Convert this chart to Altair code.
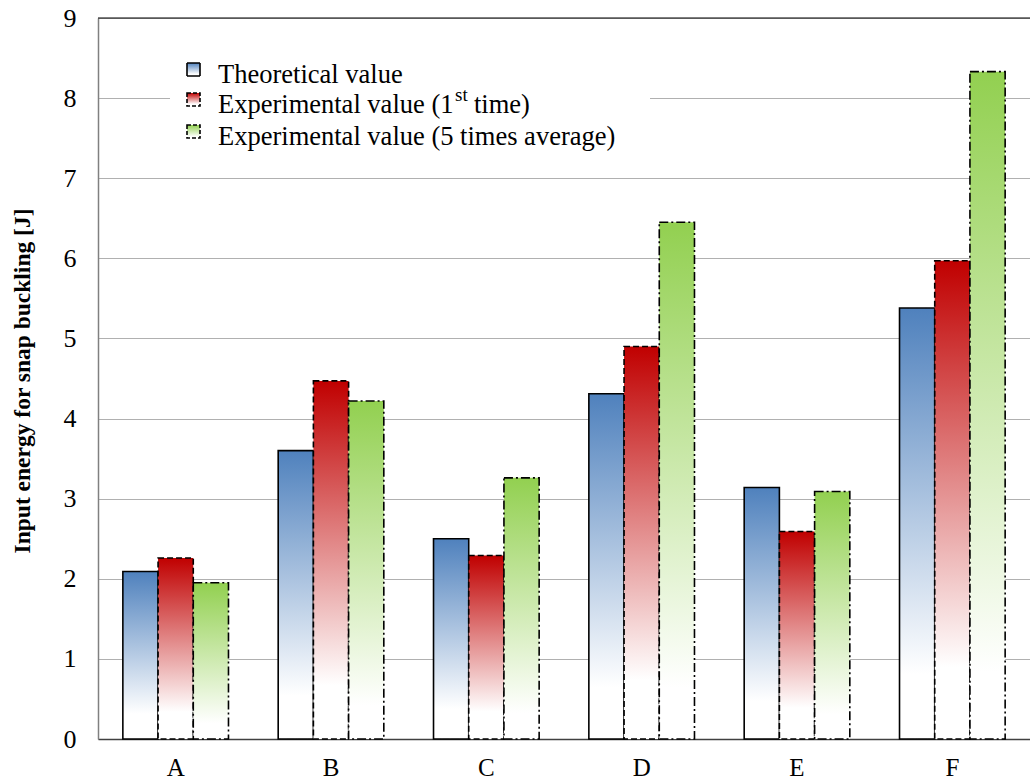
import altair as alt
import pandas as pd

categories = ["A", "B", "C", "D", "E", "F"]
theoretical = [2.09, 3.60, 2.50, 4.31, 3.14, 5.38]
experimental_1st = [2.26, 4.47, 2.29, 4.90, 2.59, 5.97]
experimental_avg = [1.95, 4.22, 3.26, 6.45, 3.09, 8.33]
series_names = ["Theoretical value", "Experimental value (1st time)",
                "Experimental value (5 times average)"]
y_ticks = [0, 1, 2, 3, 4, 5, 6, 7, 8, 9]

rows = []
for i, c in enumerate(categories):
    for s, vals in zip(series_names, [theoretical, experimental_1st, experimental_avg]):
        rows.append({"category": c, "series": s, "value": vals[i]})
df = pd.DataFrame(rows)

SERIF = "Liberation Serif"
W, H = 932, 721


def grad(top, stop=0.85):
    return alt.Gradient(
        gradient="linear", x1=0, y1=0, x2=0, y2=1,
        stops=[alt.GradientStop(offset=0, color=top),
               alt.GradientStop(offset=stop, color="#ffffff"),
               alt.GradientStop(offset=1, color="#ffffff")])


styles = [
    dict(fill=grad("#4f81bd"), strokeDash=[1, 0]),
    dict(fill=grad("#c00000"), strokeDash=[6, 3]),
    dict(fill=grad("#92d050", 0.9), strokeDash=[9, 3, 2, 3]),
]

x_enc = alt.X("category:N",
              scale=alt.Scale(domain=categories, paddingInner=0.32, paddingOuter=0.16),
              axis=alt.Axis(title=None, labelAngle=0, ticks=False, domainColor="#404040",
                            domainWidth=1.5, labelFont=SERIF, labelFontSize=25,
                            labelPadding=16, labelColor="black", grid=False))
xo_enc = alt.XOffset("series:N", scale=alt.Scale(domain=series_names,
                                                  paddingInner=0, paddingOuter=0))
y_enc = alt.Y("value:Q", scale=alt.Scale(domain=[0, 9], nice=False),
              axis=alt.Axis(values=y_ticks, title="Input energy for snap buckling [J]",
                            ticks=False, domainColor="#808080", domainWidth=1.5,
                            gridColor="#b0b0b0", gridWidth=1.2,
                            labelFont=SERIF, labelFontSize=26, labelPadding=22,
                            labelColor="black",
                            titleFont=SERIF, titleFontSize=23.5, titleFontWeight="bold",
                            titleColor="black", titleAngle=-90, titleX=-76, titleY=H / 2 + 2,
                            titleAlign="center", titleBaseline="middle"))

layers = []
for name, st in zip(series_names, styles):
    layers.append(
        alt.Chart(df).transform_filter(alt.datum.series == name)
        .mark_bar(fill=st["fill"], stroke="black", strokeWidth=1.6,
                  strokeDash=st["strokeDash"])
        .encode(x=x_enc, xOffset=xo_enc, y=y_enc)
    )

one = pd.DataFrame({"k": [0]})

# top frame line
top_rule = alt.Chart(one).mark_rule(color="black", strokeWidth=1.2).encode(
    x=alt.value(0), x2=alt.value(W), y=alt.value(0))

# legend
leg_bg = alt.Chart(one).mark_rect(fill="white").encode(
    x=alt.value(72), x2=alt.value(552), y=alt.value(37), y2=alt.value(137))

sq_y = [(45, 58), (75, 88), (107, 120)]
leg_items = []
for (y1, y2), st in zip(sq_y, styles):
    leg_items.append(
        alt.Chart(one).mark_rect(fill=st["fill"], stroke="black", strokeWidth=1.6,
                                 strokeDash=[4, 2] if st["strokeDash"] != [1, 0] else [1, 0])
        .encode(x=alt.value(89), x2=alt.value(102), y=alt.value(y1), y2=alt.value(y2)))

text_props = dict(font=SERIF, fontSize=26.5, align="left", baseline="alphabetic",
                  color="black")
leg_texts = [
    alt.Chart(one).mark_text(text="Theoretical value", **text_props).encode(
        x=alt.value(120), y=alt.value(65)),
    alt.Chart(one).mark_text(text="Experimental value (1", **text_props).encode(
        x=alt.value(120), y=alt.value(95)),
    alt.Chart(one).mark_text(text="st", font=SERIF, fontSize=19, align="left",
                             baseline="alphabetic", color="black").encode(
        x=alt.value(357), y=alt.value(83)),
    alt.Chart(one).mark_text(text="time)", **text_props).encode(
        x=alt.value(376), y=alt.value(95)),
    alt.Chart(one).mark_text(text="Experimental value (5 times average)", **text_props).encode(
        x=alt.value(120), y=alt.value(127)),
]

chart = alt.layer(*layers, top_rule, leg_bg, *leg_items, *leg_texts).properties(
    width=W, height=H,
    autosize=alt.AutoSizeParams(type="none"),
    padding={"left": 98, "top": 18, "right": 0, "bottom": 44},
).configure_view(stroke=None).configure(background="white")

chart.save("out.html", embed_options={"renderer": "svg", "actions": False})
